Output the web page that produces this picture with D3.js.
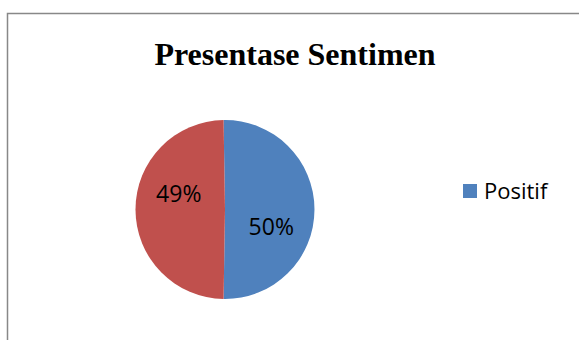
<!DOCTYPE html>
<html><head><meta charset="utf-8">
<script src="https://cdn.jsdelivr.net/npm/d3@7"></script>
<style>html,body{margin:0;padding:0;background:#fff;overflow:hidden}</style>
</head><body>
<svg id="chart" width="579" height="340"></svg>
<script>
const title = "Presentase Sentimen";
const categories = ["Positif", "Negatif"];
const values = [50, 49];
const labels = ["50%", "49%"];
const legendItems = ["Positif"];
const colors = ["#4F81BD", "#C0504D"];

const svg = d3.select("#chart");
svg.append("rect").attr("x", 7.5).attr("y", 13.5).attr("width", 700).attr("height", 500)
  .attr("fill", "#fff").attr("stroke", "#888").attr("stroke-width", 1.5);

svg.append("text").attr("x", 295).attr("y", 64.5).attr("text-anchor", "middle")
  .attr("font-family", "'Liberation Serif','Times New Roman',serif").attr("font-weight", "bold")
  .attr("font-size", 32).attr("fill", "#000").text(title);

const cx = 225, cy = 209.5, r = 89.5;
const total = d3.sum(values);
const extra = (values[0] / total - 0.5) * Math.PI; // balance half-circle rounding
const pie = d3.pie().sort(null).value(d => d).startAngle(-extra).endAngle(2 * Math.PI - extra)(values);
const arc = d3.arc().innerRadius(0).outerRadius(r);
const g = svg.append("g").attr("transform", `translate(${cx},${cy})`);
g.selectAll("path").data(pie).join("path").attr("d", arc).attr("fill", (d, i) => colors[i]);

const shift = 20 * Math.PI / 180, lr = r * 0.55;
g.selectAll("text").data(pie).join("text")
  .attr("x", d => lr * Math.sin((d.startAngle + d.endAngle) / 2 + shift))
  .attr("y", d => -lr * Math.cos((d.startAngle + d.endAngle) / 2 + shift))
  .attr("text-anchor", "middle").attr("dominant-baseline", "central")
  .attr("font-family", "'Open Sans',sans-serif").attr("font-size", 23).attr("fill", "#000")
  .text((d, i) => labels[i]);

const lg = svg.append("g").attr("transform", "translate(463,184)");
legendItems.forEach((name, i) => {
  lg.append("rect").attr("x", 0).attr("y", 0).attr("width", 14).attr("height", 14)
    .attr("fill", colors[categories.indexOf(name)]);
  lg.append("text").attr("x", 21).attr("y", 14.5).attr("font-family", "'Open Sans',sans-serif")
    .attr("font-size", 22).attr("fill", "#000").text(name);
});
</script>
</body></html>
